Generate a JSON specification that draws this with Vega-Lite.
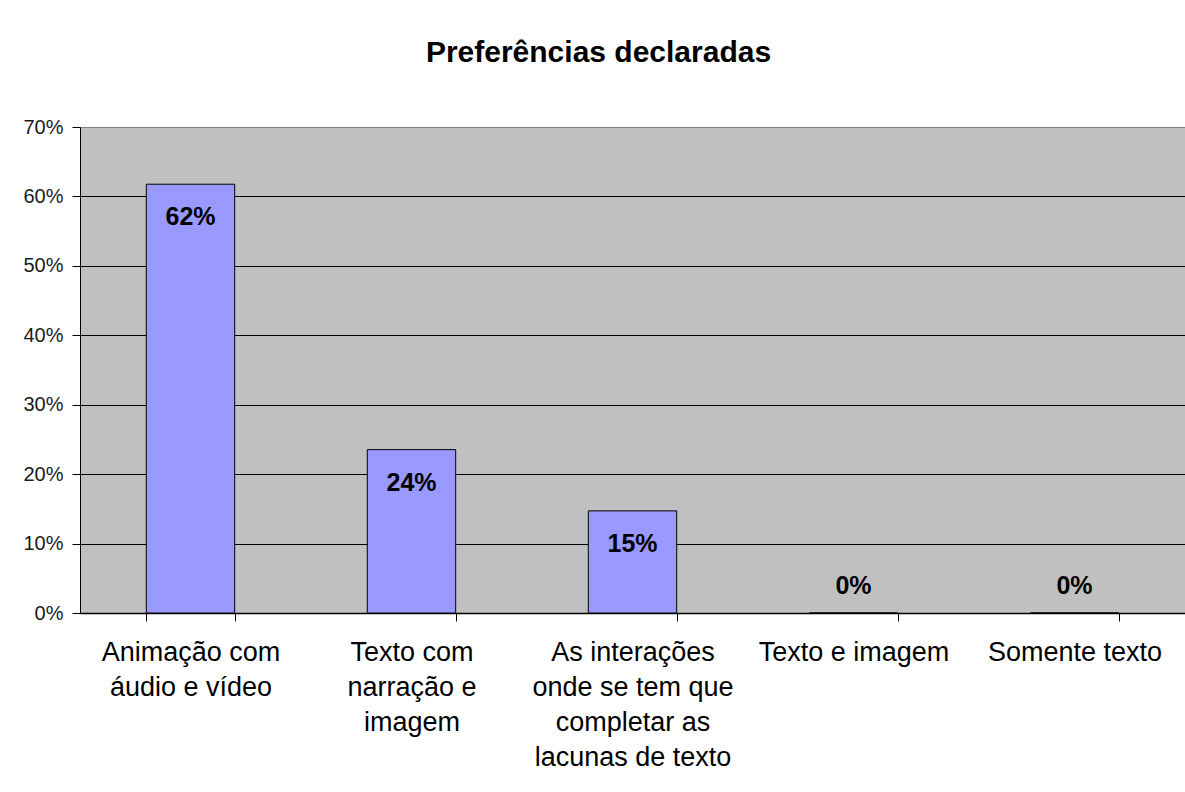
{
  "$schema": "https://vega.github.io/schema/vega-lite/v6.json",
  "autosize": "none",
  "width": 1105,
  "height": 486,
  "padding": {"left": 80, "top": 127, "right": 0, "bottom": 179},
  "background": "white",
  "title": {
    "text": "Preferências declaradas",
    "font": "Liberation Sans",
    "fontSize": 30,
    "fontWeight": "bold",
    "color": "black",
    "anchor": "middle",
    "dx": -34,
    "offset": 49
  },
  "data": {
    "values": [
      {"categoria": "Animação com áudio e vídeo", "percentual": 0.6176},
      {"categoria": "Texto com narração e imagem", "percentual": 0.2353},
      {"categoria": "As interações onde se tem que completar as lacunas de texto", "percentual": 0.1471},
      {"categoria": "Texto e imagem", "percentual": 0},
      {"categoria": "Somente texto", "percentual": 0}
    ]
  },
  "config": {
    "view": {"fill": "#C0C0C0", "stroke": "#808080", "strokeWidth": 1}
  },
  "encoding": {
    "x": {
      "field": "categoria",
      "type": "nominal",
      "sort": null,
      "scale": {"paddingInner": 0.6, "paddingOuter": 0.3},
      "axis": {
        "title": null,
        "labelAngle": 0,
        "labelFont": "Liberation Sans",
        "labelFontSize": 27,
        "labelColor": "black",
        "labelLineHeight": 35,
        "labelLimit": 0,
        "labelPadding": 18,
        "labelBaseline": "top",
        "tickBand": "extent",
        "tickSize": 8,
        "tickColor": "black",
        "tickWidth": 1,
        "domainColor": "black",
        "domainWidth": 1.5,
        "grid": false,
        "labelExpr": "datum.value == 'Animação com áudio e vídeo' ? ['Animação com','áudio e vídeo'] : datum.value == 'Texto com narração e imagem' ? ['Texto com','narração e','imagem'] : datum.value == 'As interações onde se tem que completar as lacunas de texto' ? ['As interações','onde se tem que','completar as','lacunas de texto'] : datum.label"
      }
    },
    "y": {
      "field": "percentual",
      "type": "quantitative",
      "scale": {"domain": [0, 0.7], "nice": false},
      "axis": {
        "title": null,
        "format": ".0%",
        "values": [0, 0.1, 0.2, 0.3, 0.4, 0.5, 0.6, 0.7],
        "labelFont": "Liberation Sans",
        "labelFontSize": 20,
        "labelColor": "#1a1a1a",
        "labelPadding": 9,
        "tickSize": 8,
        "tickColor": "black",
        "domainColor": "black",
        "grid": true,
        "gridColor": {"condition": {"test": "datum.value >= 0.7", "value": "#808080"}, "value": "black"},
        "gridOpacity": 1,
        "gridWidth": 1
      }
    }
  },
  "layer": [
    {
      "mark": {"type": "bar", "fill": "#9999FF", "stroke": "black", "strokeWidth": 1}
    },
    {
      "transform": [{"filter": "datum.percentual > 0"}],
      "mark": {"type": "text", "font": "Liberation Sans", "fontSize": 25, "fontWeight": "bold", "color": "black", "baseline": "middle", "dy": 33},
      "encoding": {"text": {"field": "percentual", "type": "quantitative", "format": ".0%"}}
    },
    {
      "transform": [{"filter": "datum.percentual == 0"}],
      "mark": {"type": "text", "font": "Liberation Sans", "fontSize": 25, "fontWeight": "bold", "color": "black", "baseline": "middle", "dy": -27},
      "encoding": {"text": {"field": "percentual", "type": "quantitative", "format": ".0%"}}
    }
  ]
}
